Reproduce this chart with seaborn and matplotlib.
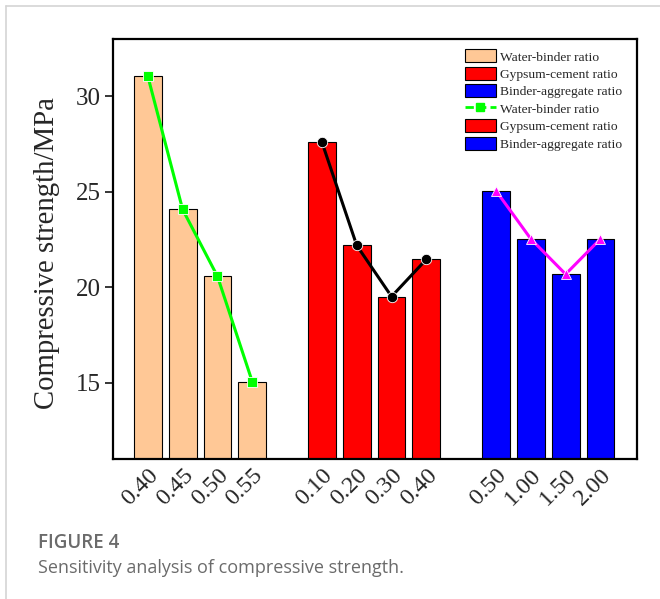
import pandas as pd
import matplotlib
matplotlib.use("Agg")
import matplotlib.pyplot as plt
from matplotlib.patches import Patch
from matplotlib.lines import Line2D
import seaborn as sns

# values
water_labels = ["0.40", "0.45", "0.50", "0.55"]
water_values = [31.05, 24.07, 20.57, 15.05]
gypsum_labels = ["0.10", "0.20", "0.30", "0.40"]
gypsum_values = [27.60, 22.19, 19.51, 21.46]
binder_labels = ["0.50", "1.00", "1.50", "2.00"]
binder_values = [25.05, 22.53, 20.68, 22.53]
groups = ["Water-binder ratio", "Gypsum-cement ratio", "Binder-aggregate ratio"]

bar_colors = {"Water-binder ratio": "#ffc896",
              "Gypsum-cement ratio": "#ff0000",
              "Binder-aggregate ratio": "#0000ff"}
line_styles = {"Water-binder ratio": ("#00ff00", "s"),
               "Gypsum-cement ratio": ("#000000", "o"),
               "Binder-aggregate ratio": ("#ff00ff", "^")}

rows = []
for g, (labels, values) in enumerate([(water_labels, water_values),
                                      (gypsum_labels, gypsum_values),
                                      (binder_labels, binder_values)]):
    for i, (lab, val) in enumerate(zip(labels, values)):
        rows.append({"pos": g * 5 + i, "label": lab, "value": val, "group": groups[g]})
df = pd.DataFrame(rows)

sns.set_style("ticks")
plt.rcParams["font.family"] = ["Liberation Serif", "DejaVu Serif"]

fig = plt.figure(figsize=(6.6, 5.99), dpi=100)
ax = fig.add_axes([113 / 660, 140 / 599, 524 / 660, 420 / 599])

sns.barplot(data=df, x="pos", y="value", hue="group", palette=bar_colors,
            native_scale=True, dodge=False, width=0.8, edgecolor="black",
            linewidth=0.8, saturation=1, legend=False, ax=ax, zorder=2)

for grp in groups:
    sub = df[df["group"] == grp]
    col, mk = line_styles[grp]
    sns.lineplot(data=sub, x="pos", y="value", color=col, marker=mk, markersize=7.5,
                 markeredgecolor="white", markeredgewidth=0.6, linewidth=2.2,
                 legend=False, ax=ax, zorder=3)

ax.set_xlim(-1, 14.05)
ax.set_ylim(11, 33)
ax.set_yticks([15, 20, 25, 30])
ax.set_xticks(df["pos"])
ax.set_xticklabels(df["label"], rotation=45, ha="right", va="top", rotation_mode="anchor")
ax.tick_params(axis="x", length=0, labelsize=17.5, pad=4)
ax.tick_params(axis="y", length=6, width=1.3, labelsize=18, direction="out", pad=3)
ax.set_xlabel("")
ax.set_ylabel("Compressive strength/MPa", fontsize=20.7)
ax.yaxis.set_label_coords(-0.102, 0.49)
for s in ax.spines.values():
    s.set_linewidth(1.6)
    s.set_color("black")

handles = [Patch(facecolor=bar_colors[groups[0]], edgecolor="black", linewidth=0.8),
           Patch(facecolor=bar_colors[groups[1]], edgecolor="black", linewidth=0.8),
           Patch(facecolor=bar_colors[groups[2]], edgecolor="black", linewidth=0.8),
           Line2D([], [], color="#00ff00", marker="s", markersize=6, linewidth=2,
                  linestyle=(0, (3, 1.5))),
           Patch(facecolor=bar_colors[groups[1]], edgecolor="black", linewidth=0.8),
           Patch(facecolor=bar_colors[groups[2]], edgecolor="black", linewidth=0.8)]
labels = groups + groups
ax.legend(handles, labels, loc="upper left", bbox_to_anchor=(352 / 524, 0.975),
          frameon=False, fontsize=9.7, handlelength=2.3, handleheight=1.1,
          handletextpad=0.3, labelspacing=0.25, borderpad=0, borderaxespad=0)

# page frame and caption
fig.add_artist(Line2D([6 / 660, 6 / 660], [0, 593 / 599], color="#d4d4d4", linewidth=1.2))
fig.add_artist(Line2D([6 / 660, 1], [593 / 599, 593 / 599], color="#d4d4d4", linewidth=1.2))
fig.text(38 / 660, 1 - 543 / 599, "FIGURE 4", family="Open Sans", fontsize=13.5,
         fontweight="semibold", color="#6b6b6b", va="center")
fig.text(38 / 660, 1 - 568 / 599, "Sensitivity analysis of compressive strength.",
         family="Open Sans", fontsize=13, color="#6b6b6b", va="center")

fig.savefig("out.png", dpi=100)
